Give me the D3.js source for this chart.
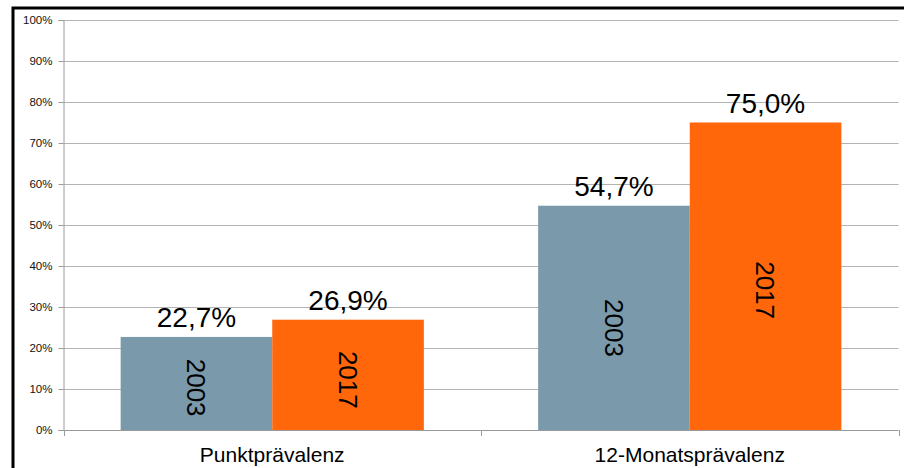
<!DOCTYPE html>
<html>
<head>
<meta charset="utf-8">
<script src="https://cdn.jsdelivr.net/npm/d3@7/dist/d3.min.js"></script>
<style>
  html, body { margin: 0; padding: 0; background: #fff; }
  svg { display: block; font-family: "Liberation Sans", Arial, sans-serif; }
</style>
</head>
<body>
<svg id="chart" width="904" height="468"></svg>
<script>
// Prevalence by measure and survey year
const categories = ["Punktprävalenz", "12-Monatsprävalenz"];
const years = ["2003", "2017"];
const values2003 = [22.7, 54.7];
const values2017 = [26.9, 75.0];
const yTicks = [0, 10, 20, 30, 40, 50, 60, 70, 80, 90, 100];
const colors = ["#7A9AAB", "#FF670A"];

const series = [values2003, values2017];
const rows = categories.map((c, i) => ({
  category: c,
  bars: years.map((yr, j) => ({ year: yr, value: series[j][i], color: colors[j] }))
}));

const svg = d3.select("#chart");
const W = 904, H = 468;
const plot = { left: 63.5, right: 898.5, top: 20, bottom: 430 };

// frame (left and top edges)
svg.append("path")
  .attr("d", `M13,${H} V8 H${W}`)
  .attr("fill", "none")
  .attr("stroke", "#000")
  .attr("stroke-width", 3);

const y = d3.scaleLinear().domain([0, 100]).range([plot.bottom, plot.top]);
const x0 = d3.scaleBand().domain(categories).range([plot.left, plot.right]).padding(0);
const x1 = d3.scaleBand().domain(years).range([0, x0.bandwidth()])
  .paddingInner(0).paddingOuter(0.377);

// horizontal gridlines
svg.append("g")
  .selectAll("line")
  .data(yTicks.filter(t => t > 0))
  .join("line")
  .attr("x1", plot.left)
  .attr("x2", plot.right)
  .attr("y1", d => Math.round(y(d)) + 0.5)
  .attr("y2", d => Math.round(y(d)) + 0.5)
  .attr("stroke", "#b3b3b3")
  .attr("stroke-width", 1);

// y axis
const yAxis = svg.append("g")
  .attr("transform", `translate(${plot.left},0)`)
  .call(d3.axisLeft(y).tickValues(yTicks).tickFormat(d => d + "%").tickSize(5).tickPadding(6));
yAxis.select(".domain").attr("stroke", "#9a9a9a");
yAxis.selectAll(".tick line").attr("stroke", "#9a9a9a");
yAxis.selectAll(".tick text")
  .attr("fill", "#111")
  .style("font-size", "11.5px")
  .style("font-family", "'Liberation Sans', Arial, sans-serif");

// bars
const groups = svg.append("g")
  .selectAll("g")
  .data(rows)
  .join("g")
  .attr("transform", d => `translate(${x0(d.category)},0)`);

groups.selectAll("rect")
  .data(d => d.bars)
  .join("rect")
  .attr("x", d => x1(d.year))
  .attr("y", d => y(d.value))
  .attr("width", x1.bandwidth())
  .attr("height", d => y(0) - y(d.value))
  .attr("fill", d => d.color);

// value labels above bars
groups.selectAll("text.value")
  .data(d => d.bars)
  .join("text")
  .attr("class", "value")
  .attr("x", d => x1(d.year) + x1.bandwidth() / 2)
  .attr("y", d => y(d.value) - 10)
  .attr("text-anchor", "middle")
  .style("font-size", "28px")
  .attr("fill", "#000")
  .text(d => d.value.toFixed(1).replace(".", ",") + "%");

// year labels inside bars, rotated
groups.selectAll("text.year")
  .data(d => d.bars)
  .join("text")
  .attr("class", "year")
  .attr("transform", d => `translate(${x1(d.year) + x1.bandwidth() / 2},${y(d.value * 0.455)}) rotate(90)`)
  .attr("text-anchor", "middle")
  .attr("dy", "0.35em")
  .style("font-size", "26px")
  .attr("fill", "#000")
  .text(d => d.year);

// x axis
const xAxisG = svg.append("g").attr("transform", `translate(0,${plot.bottom})`);
xAxisG.append("line")
  .attr("x1", plot.left).attr("x2", plot.right)
  .attr("y1", 0.5).attr("y2", 0.5)
  .attr("stroke", "#9a9a9a");
const boundaries = categories.map(c => x0(c)).concat([x0(categories[categories.length - 1]) + x0.bandwidth()]);
xAxisG.selectAll("line.tick")
  .data(boundaries)
  .join("line")
  .attr("class", "tick")
  .attr("x1", d => Math.round(d) + 0.5).attr("x2", d => Math.round(d) + 0.5)
  .attr("y1", 0).attr("y2", 6)
  .attr("stroke", "#9a9a9a");
xAxisG.selectAll("text")
  .data(categories)
  .join("text")
  .attr("x", d => x0(d) + x0.bandwidth() / 2)
  .attr("y", 32)
  .attr("text-anchor", "middle")
  .style("font-size", "21px")
  .attr("fill", "#000")
  .text(d => d);
</script>
</body>
</html>
